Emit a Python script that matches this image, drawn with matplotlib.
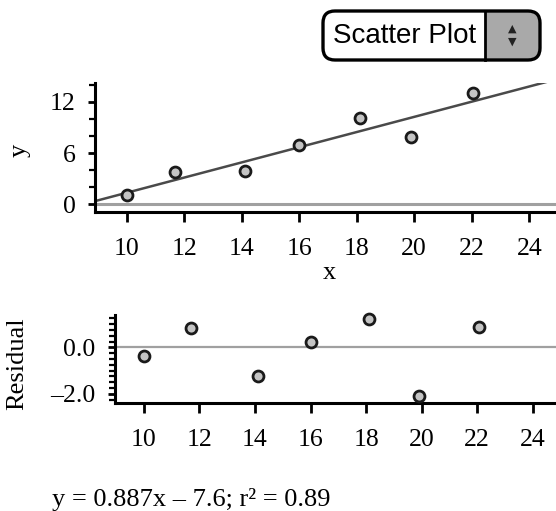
import numpy as np
import matplotlib
matplotlib.use("Agg")
import matplotlib.pyplot as plt
from matplotlib.patches import FancyBboxPatch, Rectangle
from matplotlib.ticker import MultipleLocator, FixedLocator, FuncFormatter

# data
x_vals = [10.0, 11.68, 14.1, 16.0, 18.1, 19.9, 22.05]
y_vals = [1.05, 3.8, 3.87, 6.9, 10.1, 7.9, 13.0]
resid_vals = [-0.37, 0.83, -1.23, 0.25, 1.23, -2.09, 0.87]
x_ticks = [10, 12, 14, 16, 18, 20, 22, 24]
equation = "y = 0.887x \u2013 7.6; r\u00b2 = 0.89"
menu_label = "Scatter Plot"

W, H = 556, 511
SERIF = ["Liberation Serif", "DejaVu Serif"]
plt.rcParams["font.family"] = SERIF

fig = plt.figure(figsize=(W / 100, H / 100), dpi=100)


def px_axes(left, top, right, bottom):
    # axes box given in pixel coordinates of the figure
    return fig.add_axes([left / W, 1 - bottom / H, (right - left) / W, (bottom - top) / H])


def style(ax):
    for s in ["top", "right"]:
        ax.spines[s].set_visible(False)
    for s in ["left", "bottom"]:
        ax.spines[s].set_linewidth(2.2)
    ax.tick_params(which="major", direction="out", width=2.0, labelsize=18.5)
    ax.tick_params(axis="x", which="major", length=7, pad=12)
    ax.tick_params(axis="y", which="major", length=5, pad=9)
    ax.tick_params(which="minor", direction="out", length=4, width=1.6)
    ax.patch.set_visible(False)


# top scatter plot
ax1 = px_axes(95, 83, 556, 212)
style(ax1)
ax1.set_xlim(8.9, 24.93)
ax1.set_ylim(-0.9, 14.2)
ax1.xaxis.set_major_locator(FixedLocator(x_ticks))
ax1.yaxis.set_major_locator(FixedLocator([0, 6, 12]))
ax1.yaxis.set_minor_locator(MultipleLocator(2))
ax1.axhline(0, color="#a0a0a0", lw=2.2, zorder=1)
k, b = np.polyfit(x_vals, y_vals, 1)
xl = np.array(ax1.get_xlim())
ax1.plot(xl, k * xl + b, color="#4a4a4a", lw=1.8, zorder=2)
ax1.scatter(x_vals, y_vals, s=62, marker="o", facecolor="#c4c4c4",
            edgecolor="#1a1a1a", linewidth=2.0, zorder=3, clip_on=False)

# residual plot
ax2 = px_axes(115, 315, 556, 403)
style(ax2)
ax2.set_xlim(8.96, 24.84)
ax2.set_ylim(-2.4, 1.4)
ax2.xaxis.set_major_locator(FixedLocator(x_ticks))
ax2.yaxis.set_major_locator(FixedLocator([-2.0, 0.0]))
ax2.yaxis.set_minor_locator(MultipleLocator(0.25))
ax2.yaxis.set_major_formatter(FuncFormatter(lambda v, p: f"{v:.1f}".replace("-", "\u2013")))
ax2.axhline(0, color="#a0a0a0", lw=1.6, zorder=1)
ax2.scatter(x_vals, resid_vals, s=62, marker="o", facecolor="#c4c4c4",
            edgecolor="#1a1a1a", linewidth=2.0, zorder=3, clip_on=False)

# overlay in pixel units for labels and the menu widget
ov = fig.add_axes([0, 0, 1, 1])
ov.set_xlim(0, W)
ov.set_ylim(H, 0)
ov.axis("off")
ov.patch.set_visible(False)

ov.text(20, 150, "y", rotation=90, fontsize=19, ha="center", va="center")
ov.text(329, 273, "x", fontsize=19, ha="center", va="center")
ov.text(17, 364, "Residual", rotation=90, fontsize=19, ha="center", va="center")
ov.text(52, 506, equation, fontsize=19, ha="left", va="baseline")

# "Scatter Plot" drop-down
bx0, by0, bx1, by1, split = 323, 11, 540, 60, 485
outer = FancyBboxPatch((bx0, by0), bx1 - bx0, by1 - by0,
                       boxstyle="round,pad=0,rounding_size=12",
                       facecolor="#a9a9a9", edgecolor="none")
ov.add_patch(outer)
white = Rectangle((bx0, by0), split - bx0, by1 - by0, facecolor="white", edgecolor="none")
ov.add_patch(white)
white.set_clip_path(outer)
ov.plot([split, split], [by0, by1], color="black", lw=2.0)
border = FancyBboxPatch((bx0, by0), bx1 - bx0, by1 - by0,
                        boxstyle="round,pad=0,rounding_size=12",
                        facecolor="none", edgecolor="black", linewidth=2.4)
ov.add_patch(border)
ov.text(333, 36, menu_label, family=["Liberation Sans", "DejaVu Sans"],
        fontsize=20, ha="left", va="center")
ov.text(512, 29, "\u25b2", family="DejaVu Sans", fontsize=8, ha="center", va="center", color="#222222")
ov.text(512, 42, "\u25bc", family="DejaVu Sans", fontsize=8, ha="center", va="center", color="#222222")

fig.savefig("out.png", dpi=100)
